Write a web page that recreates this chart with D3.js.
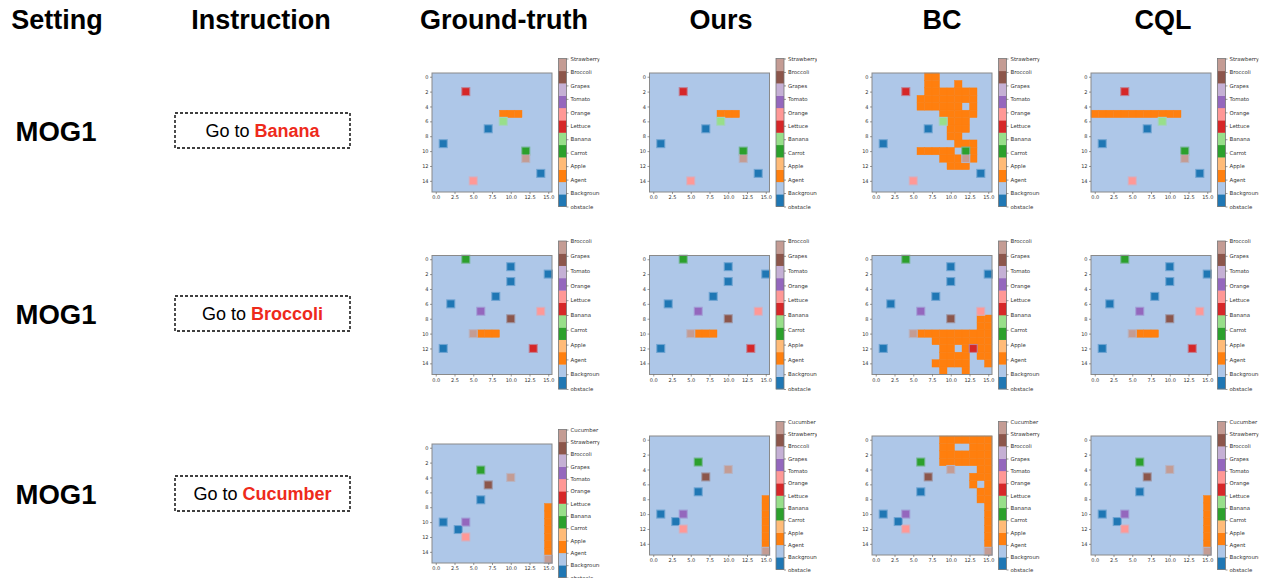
<!DOCTYPE html>
<html>
<head>
<meta charset="utf-8">
<script src="https://cdn.jsdelivr.net/npm/d3@7"></script>
<style>
  body { margin: 0; background: #fff; }
  .tick text { font-family: "DejaVu Sans", sans-serif; fill: #333; }
  .tick line { stroke: #555; stroke-width: 0.6; }
</style>
</head>
<body>
<svg id="fig" width="1265" height="578"></svg>
<script>
// tab20 colours, index = class id in the grid
const tab20 = ["#1f77b4", "#aec7e8", "#ff7f0e", "#ffbb78", "#2ca02c", "#98df8a",
               "#d62728", "#ff9896", "#9467bd", "#c5b0d5", "#8c564b", "#c49c94"];

const headers = ["Setting", "Instruction", "Ground-truth", "Ours", "BC", "CQL"];
const settings = ["MOG1", "MOG1", "MOG1"];
const targets = ["Banana", "Broccoli", "Cucumber"];

const cbLabels1 = ["Strawberry", "Broccoli", "Grapes", "Tomato", "Orange", "Lettuce",
                   "Banana", "Carrot", "Apple", "Agent", "Background", "obstacle"];
const cbLabels2 = ["Broccoli", "Grapes", "Tomato", "Orange", "Lettuce",
                   "Banana", "Carrot", "Apple", "Agent", "Background", "obstacle"];
const cbLabels3 = ["Cucumber", "Strawberry", "Broccoli", "Grapes", "Tomato", "Orange", "Lettuce",
                   "Banana", "Carrot", "Apple", "Agent", "Background", "obstacle"];

// objects on the map: [col, row, class]
const objects1 = [[4, 2, 6], [9, 6, 5], [7, 7, 0], [1, 9, 0], [14, 13, 0],
                  [12, 10, 4], [12, 11, 11], [5, 14, 7]];
const objects2 = [[4, 0, 4], [10, 1, 0], [15, 2, 0], [10, 3, 0], [8, 5, 0], [2, 6, 0], [1, 12, 0],
                  [6, 7, 8], [14, 7, 7], [10, 8, 10], [5, 10, 11], [13, 12, 6]];
const objects3 = [[6, 3, 4], [10, 4, 11], [7, 5, 10], [6, 7, 0], [1, 10, 0], [3, 11, 0],
                  [4, 10, 8], [4, 12, 7], [15, 15, 11]];

// agent trajectories as runs: [row, firstCol, lastCol]
const gt1 = [[5, 9, 11]];
const ours1 = [[5, 9, 11]];
const bc1 = [[0, 7, 8], [1, 7, 8], [1, 11, 11], [2, 7, 13], [3, 6, 13], [4, 6, 11], [4, 13, 13],
             [5, 9, 13], [6, 10, 12], [7, 10, 12], [8, 10, 11], [9, 11, 13], [10, 6, 10],
             [10, 13, 13], [11, 9, 11], [11, 13, 13], [12, 10, 12]];
const cql1 = [[5, 0, 11]];

const gt2 = [[10, 6, 8]];
const ours2 = [[10, 6, 8]];
const bc2 = [[8, 14, 15], [9, 14, 15], [10, 6, 15], [11, 8, 15], [12, 9, 10], [12, 12, 12],
             [12, 14, 15], [13, 9, 12], [13, 14, 15], [14, 8, 12], [14, 15, 15], [15, 9, 9], [15, 12, 12]];
const cql2 = [[10, 6, 8]];

const gt3 = [[8, 15, 15], [9, 15, 15], [10, 15, 15], [11, 15, 15], [12, 15, 15], [13, 15, 15], [14, 15, 15]];
const ours3 = gt3;
const bc3 = [[0, 9, 15], [1, 9, 10], [1, 13, 15], [2, 9, 15], [3, 9, 15], [4, 14, 15], [5, 13, 15],
             [6, 13, 13], [6, 15, 15], [7, 14, 15], [8, 14, 15], [9, 15, 15], [10, 15, 15],
             [11, 15, 15], [12, 15, 15], [13, 15, 15], [14, 15, 15]];
const cql3 = gt3;

const rows = [
  { objects: objects1, labels: cbLabels1, runs: [gt1, ours1, bc1, cql1] },
  { objects: objects2, labels: cbLabels2, runs: [gt2, ours2, bc2, cql2] },
  { objects: objects3, labels: cbLabels3, runs: [gt3, ours3, bc3, cql3] }
];

// layout
const headerX = [57, 261, 504, 721, 942, 1163];
const rowMid = [130.5, 313.5, 493.5];
const panelLeft = [432, 649.5, 872, 1091];
const panelTop = [[73, 73, 73, 73], [255.5, 255.5, 255.5, 255.5], [444, 436, 436, 436]];
const PW = 120, PH = 119;
const CB_DX = 126.5, CB_W = 8, CB_H = 148;

const svg = d3.select("#fig");
const defs = svg.append("defs");

svg.selectAll("text.header").data(headers).join("text")
  .attr("class", "header")
  .attr("x", (d, i) => headerX[i]).attr("y", 29)
  .attr("text-anchor", "middle")
  .style("font-family", "'Liberation Sans', Arial, sans-serif")
  .style("font-weight", "bold").style("font-size", "27px")
  .text(d => d);

svg.selectAll("text.setting").data(settings).join("text")
  .attr("class", "setting")
  .attr("x", 56).attr("y", (d, i) => rowMid[i] + 10)
  .attr("text-anchor", "middle")
  .style("font-family", "'Liberation Sans', Arial, sans-serif")
  .style("font-weight", "bold").style("font-size", "27.5px")
  .text(d => d);

targets.forEach((t, i) => {
  svg.append("rect")
    .attr("x", 175).attr("y", rowMid[i] - 17.5)
    .attr("width", 175).attr("height", 35)
    .attr("fill", "none").attr("stroke", "#000")
    .attr("stroke-width", 1.4).attr("stroke-dasharray", "3,2");
  const txt = svg.append("text")
    .attr("x", 262.5).attr("y", rowMid[i] + 6.5)
    .attr("text-anchor", "middle")
    .style("font-family", "'Liberation Sans', Arial, sans-serif")
    .style("font-size", "18px");
  txt.append("tspan").text("Go to ");
  txt.append("tspan").style("font-weight", "bold").attr("fill", "#ee2a1b").text(t);
});

let clipId = 0;
function drawPanel(x0, y0, objects, runs, labels) {
  const g = svg.append("g");
  const xs = d3.scaleLinear().domain([-0.5, 15.5]).range([x0, x0 + PW]);
  const ys = d3.scaleLinear().domain([-0.5, 15.5]).range([y0, y0 + PH]);
  const cw = xs(1) - xs(0), ch = ys(1) - ys(0);

  g.append("rect")
    .attr("x", xs(-0.5)).attr("y", ys(-0.5))
    .attr("width", xs(15.5) - xs(-0.5)).attr("height", ys(15.5) - ys(-0.5))
    .attr("fill", tab20[1]);

  const path = [];
  runs.forEach(([r, a, b]) => { for (let c = a; c <= b; c++) path.push([c, r, 2]); });

  g.selectAll("rect.agent").data(path).join("rect")
    .attr("class", "agent")
    .attr("x", d => xs(d[0] - 0.5)).attr("y", d => ys(d[1] - 0.5))
    .attr("width", cw).attr("height", ch)
    .attr("fill", tab20[2]).attr("stroke", tab20[2]).attr("stroke-width", 0.4);

  // soft halo left by the image resampling
  g.selectAll("rect.halo").data(objects).join("rect")
    .attr("class", "halo")
    .attr("x", d => xs(d[0] - 0.5) - 0.8).attr("y", d => ys(d[1] - 0.5) - 0.8)
    .attr("width", cw + 1.6).attr("height", ch + 1.6)
    .attr("fill", d => d3.interpolateRgb(tab20[d[2]], tab20[1])(0.55));
  g.selectAll("rect.obj").data(objects).join("rect")
    .attr("class", "obj")
    .attr("x", d => xs(d[0] - 0.5) + 0.3).attr("y", d => ys(d[1] - 0.5) + 0.3)
    .attr("width", cw - 0.6).attr("height", ch - 0.6)
    .attr("fill", d => tab20[d[2]]);

  g.append("rect")
    .attr("x", xs(-0.5)).attr("y", ys(-0.5))
    .attr("width", xs(15.5) - xs(-0.5)).attr("height", ys(15.5) - ys(-0.5))
    .attr("fill", "none").attr("stroke", "#8a8a8a").attr("stroke-width", 1);

  const ax = g.append("g").attr("transform", `translate(0,${y0 + PH})`)
    .call(d3.axisBottom(xs).tickValues(d3.range(0, 15.01, 2.5))
      .tickFormat(d3.format(".1f")).tickSize(2).tickPadding(1.5));
  const ay = g.append("g").attr("transform", `translate(${x0},0)`)
    .call(d3.axisLeft(ys).tickValues(d3.range(0, 15, 2)).tickSize(2).tickPadding(1.5));
  [ax, ay].forEach(a => {
    a.select(".domain").remove();
    a.selectAll("text").style("font-size", "5px");
  });

  // colorbar
  const cx = x0 + CB_DX, cy = y0 + PH / 2 - CB_H / 2;
  const cs = d3.scaleLinear().domain([12, 0]).range([cy, cy + CB_H]);
  g.selectAll("rect.cb").data(d3.range(12)).join("rect")
    .attr("class", "cb")
    .attr("x", cx).attr("y", d => cs(d + 1))
    .attr("width", CB_W).attr("height", d => cs(d) - cs(d + 1) + 0.3)
    .attr("fill", d => tab20[d]);
  g.append("rect")
    .attr("x", cx).attr("y", cy).attr("width", CB_W).attr("height", CB_H)
    .attr("fill", "none").attr("stroke", "#777").attr("stroke-width", 0.8);

  const id = "clip" + (clipId++);
  defs.append("clipPath").attr("id", id).append("rect")
    .attr("x", cx).attr("y", cy - 10).attr("width", 41).attr("height", CB_H + 20);
  const lab = d3.scalePoint().domain(labels).range([cy, cy + CB_H]);
  const ac = g.append("g").attr("clip-path", `url(#${id})`)
    .append("g").attr("transform", `translate(${cx + CB_W},0)`)
    .call(d3.axisRight(lab).tickSize(2).tickPadding(2));
  ac.select(".domain").remove();
  ac.selectAll("text").style("font-size", "5.4px");
}

rows.forEach((row, ri) => {
  row.runs.forEach((runs, ci) => {
    drawPanel(panelLeft[ci], panelTop[ri][ci], row.objects, runs, row.labels);
  });
});
</script>
</body>
</html>
